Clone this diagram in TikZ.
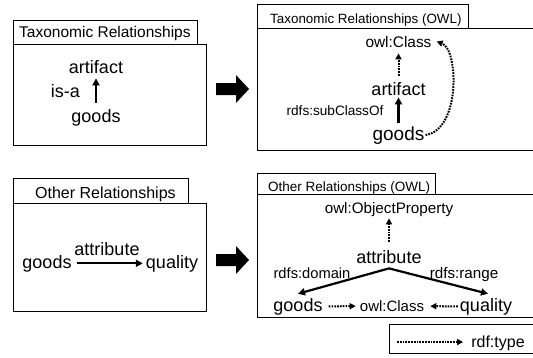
\documentclass[tikz,border=0pt]{standalone}
\usepackage{fontspec}
\setmainfont{Liberation Sans}
\usetikzlibrary{arrows.meta}

\begin{document}
\begin{tikzpicture}[x=1pt,y=-1pt,
  lbl/.style={inner sep=0pt, anchor=base},
  big/.style={lbl, font=\fontsize{18}{20}\selectfont},
  mid/.style={lbl, font=\fontsize{15.2}{17}\selectfont},
  small/.style={lbl, font=\fontsize{13.6}{15}\selectfont},
  ttl/.style={inner sep=0pt, anchor=base west},
  frame/.style={draw=black, line width=0.9pt},
  solidarrow/.style={line width=2.2pt, -{Triangle[length=7pt,width=7pt]}},
  typearrow/.style={line width=2pt, dash pattern=on 1.7pt off 1.1pt,
                    -{Triangle[length=6pt,width=6pt]}},
  bigarrow/.style={fill=black}
]
\useasboundingbox (0,0) rectangle (533,357);
\clip (0,0) rectangle (533,357);

% ---- frames ----
\draw[frame] (13,44) rectangle (206,145);
\draw[frame] (13,20) rectangle (197,44);
\draw[frame] (257,28) rectangle (545,150);
\draw[frame] (257,4) rectangle (468,28);
\draw[frame] (13,203) rectangle (206,311);
\draw[frame] (13,178) rectangle (188,203);
\draw[frame] (257,194) rectangle (545,317);
\draw[frame] (257,173) rectangle (435,194);
\draw[frame] (389,324) rectangle (545,353);

% ---- titles ----
\node[ttl, font=\fontsize{15.5}{17}\selectfont] (ttlA) at (19,37) {Taxonomic Relationships};
\node[ttl, font=\fontsize{13.4}{15}\selectfont] (ttlB) at (270,23.5) {Taxonomic Relationships (OWL)};
\node[ttl, font=\fontsize{16}{18}\selectfont] (ttlC) at (35,198) {Other Relationships};
\node[ttl, font=\fontsize{13.5}{15}\selectfont] (ttlD) at (268,191) {Other Relationships (OWL)};

% ---- transformation arrows ----
\fill[bigarrow] (216,83) -- (236,83) -- (236,75) -- (249,89) -- (236,103) -- (236,95) -- (216,95) -- cycle;
\fill[bigarrow] (216,254) -- (236,254) -- (236,246) -- (249,260) -- (236,274) -- (236,266) -- (216,266) -- cycle;

% ---- taxonomic relationships ----
\node[big] (tlA) at (96,73) {artifact};
\node[big] (tlG) at (96,122) {goods};
\node[big] (tlI) at (65.5,97) {is-a};
\draw[solidarrow, shorten <=6pt, shorten >=5pt] (tlG.north) -- (tlA.south);

% ---- taxonomic relationships (OWL) ----
\node[lbl, font=\fontsize{15.4}{17}\selectfont] (trC) at (398.5,47) {owl:Class};
\node[big] (trA) at (398.5,95) {artifact};
\node[lbl, font=\fontsize{19}{21}\selectfont] (trG) at (398.5,140) {goods};
\node[small] (trS) at (335,115) {rdfs:subClassOf};
\draw[typearrow, shorten <=6pt, shorten >=6pt] (trA.north) -- (trC.south);
\draw[solidarrow, shorten <=3pt, shorten >=2pt] (trG.north) -- (trA.south);
\draw[typearrow, shorten <=1pt] (trG.east) .. controls +(36,-5) and +(22,8) .. ([xshift=5pt]trC.east);

% ---- other relationships ----
\node[big] (blT) at (107,255) {attribute};
\node[big] (blG) at (47,268) {goods};
\node[big] (blQ) at (172,268) {quality};
\draw[solidarrow, line width=2pt, shorten <=5pt, shorten >=3pt] (blG.east) -- (blQ.west);

% ---- other relationships (OWL) ----
\node[mid] (brP) at (389,213) {owl:ObjectProperty};
\node[big] (brT) at (389,263) {attribute};
\node[big] (brG) at (298,311) {goods};
\node[lbl, font=\fontsize{15}{17}\selectfont] (brC) at (392,311.5) {owl:Class};
\node[big] (brQ) at (486,311) {quality};
\node[lbl, font=\fontsize{14.7}{16}\selectfont] (brD) at (312,278) {rdfs:domain};
\node[mid] (brR) at (464,278) {rdfs:range};
\coordinate (apex) at ([yshift=-5pt]brT.south);
\draw[typearrow, shorten <=8pt, shorten >=2pt] (brT.north) -- (brP.south);
\draw[solidarrow] (apex) -- ([yshift=4pt]brG.north);
\draw[solidarrow] (apex) -- ([xshift=2pt,yshift=4pt]brQ.north);
\draw[typearrow, shorten <=6pt, shorten >=4pt] (brG.east) -- (brC.west);
\draw[typearrow, shorten <=2pt, shorten >=6pt] (brQ.west) -- (brC.east);

% ---- legend ----
\node[lbl, font=\fontsize{16}{18}\selectfont] (lgT) at (498,347) {rdf:type};
\coordinate (lgS) at (397,342);
\draw[typearrow, shorten >=8pt] (lgS) -- (lgS -| lgT.west);
\end{tikzpicture}
\end{document}
